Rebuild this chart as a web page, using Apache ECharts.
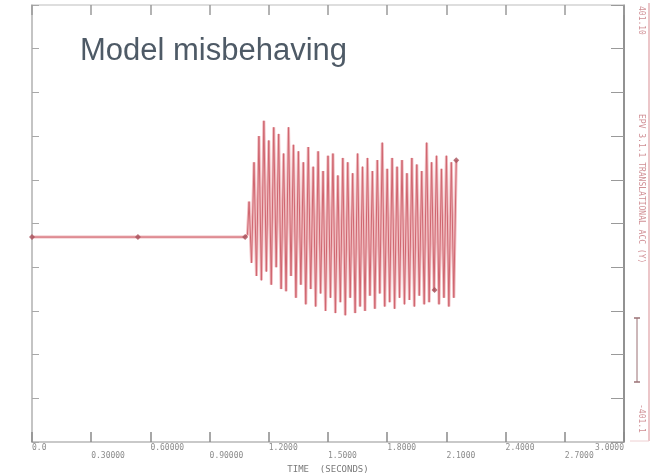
<!DOCTYPE html>
<html>
<head>
<meta charset="utf-8">
<script src="https://cdn.jsdelivr.net/npm/echarts@6/dist/echarts.min.js"></script>
<style>
html,body{margin:0;padding:0;background:#fff;}
#c{width:662px;height:473px;}
</style>
</head>
<body>
<div id="c"></div>
<script>
// Time (s) of each signal point
var timeS = [0.000, 0.537, 1.080, 1.092,
  1.1000, 1.1125, 1.1250, 1.1375, 1.1500, 1.1625, 1.1750, 1.1875, 1.2000, 1.2125,
  1.2250, 1.2375, 1.2500, 1.2625, 1.2750, 1.2875, 1.3000, 1.3125, 1.3250, 1.3375,
  1.3500, 1.3625, 1.3750, 1.3875, 1.4000, 1.4125, 1.4250, 1.4375, 1.4500, 1.4625,
  1.4750, 1.4875, 1.5000, 1.5125, 1.5250, 1.5375, 1.5500, 1.5625, 1.5750, 1.5875,
  1.6000, 1.6125, 1.6250, 1.6375, 1.6500, 1.6625, 1.6750, 1.6875, 1.7000, 1.7125,
  1.7250, 1.7375, 1.7500, 1.7625, 1.7750, 1.7875, 1.8000, 1.8125, 1.8250, 1.8375,
  1.8500, 1.8625, 1.8750, 1.8875, 1.9000, 1.9125, 1.9250, 1.9375, 1.9500, 1.9625,
  1.9750, 1.9875, 2.0000, 2.0125, 2.0250, 2.0375, 2.0500, 2.0625, 2.0750, 2.0875,
  2.1000, 2.1125, 2.1250, 2.1375, 2.1500];
// Signal value (plot units, 0..100)
var signal = [46.9, 46.9, 46.9, 47.5,
  55.0, 41.0, 64.0, 38.0, 70.0, 37.0, 73.5, 39.0, 69.0, 36.0,
  72.0, 40.0, 70.5, 35.0, 66.0, 34.5, 72.0, 38.0, 68.0, 33.0,
  66.5, 36.0, 64.0, 31.5, 67.5, 35.0, 63.0, 31.0, 66.5, 34.0,
  62.0, 30.0, 65.5, 33.0, 66.0, 29.5, 61.0, 32.0, 65.0, 29.0,
  64.0, 33.0, 61.5, 29.5, 66.0, 31.0, 63.0, 30.0, 65.0, 33.5,
  62.0, 30.5, 64.5, 34.0, 68.5, 31.0, 62.5, 32.0, 65.0, 30.5,
  63.0, 33.0, 64.5, 31.5, 61.5, 32.5, 65.0, 31.0, 63.5, 33.5,
  62.0, 31.5, 68.5, 32.0, 64.0, 34.5, 65.5, 31.5, 62.5, 33.0,
  65.5, 31.0, 64.0, 33.0, 64.5];
// Marker symbols along the trace
var markerT = [0.000, 0.537, 1.080, 2.040, 2.150];
var markerV = [46.9, 46.9, 46.9, 34.8, 64.5];
// X tick labels
var xTickLabels = ['0.0', '0.30000', '0.60000', '0.90000', '1.2000', '1.5000',
  '1.8000', '2.1000', '2.4000', '2.7000', '3.0000'];
var xTitle = 'TIME  (SECONDS)';
var chartTitle = 'Model misbehaving';
var rightTop = '401.10';
var rightMid = 'EPV 3.1.1 TRANSLATIONAL ACC (Y)';
var rightBot = '-401.1';

var lineData = timeS.map(function (t, i) { return [t, signal[i]]; });
var markData = markerT.map(function (t, i) { return [t, markerV[i]]; });

var chart = echarts.init(document.getElementById('c'));
var mono = 'DejaVu Sans Mono';
var option = {
  animation: false,
  backgroundColor: '#ffffff',
  title: {
    text: chartTitle, left: 75, top: 31,
    textStyle: { fontFamily: 'Liberation Sans, Arial', fontSize: 31, fontWeight: 'normal', color: '#4e5a66' }
  },
  grid: { left: 32, right: 38, top: 5, bottom: 31, outerBoundsMode: 'none', containLabel: false },
  xAxis: [{
    type: 'value', min: 0, max: 3, interval: 0.3, position: 'bottom',
    axisLine: { show: true, onZero: false, lineStyle: { color: '#b8b8b8', width: 1.5 } },
    axisTick: { show: true, inside: true, length: 10, lineStyle: { color: '#8a8a8a', width: 1.5 } },
    splitLine: { show: false },
    axisLabel: {
      align: 'left', alignMaxLabel: 'right', margin: 2,
      fontFamily: mono, fontSize: 8, color: '#8c8c8c', lineHeight: 8,
      formatter: function (v) {
        var i = Math.round(v / 0.3);
        return i % 2 ? '\n' + xTickLabels[i] : xTickLabels[i];
      }
    },
    name: xTitle, nameLocation: 'middle', nameGap: 19,
    nameTextStyle: { fontFamily: mono, fontSize: 9, color: '#7a7a7a' }
  }, {
    type: 'value', min: 0, max: 3, interval: 0.3, position: 'top',
    axisLine: { show: true, onZero: false, lineStyle: { color: '#d4d4d4', width: 1.5 } },
    axisTick: { show: true, inside: true, length: 10, lineStyle: { color: '#9a9a9a', width: 1.5 } },
    axisLabel: { show: false }, splitLine: { show: false }
  }],
  yAxis: [{
    type: 'value', min: 0, max: 100, interval: 10, position: 'left',
    axisLine: { show: true, onZero: false, lineStyle: { color: '#c4c4c4', width: 2 } },
    axisTick: { show: true, inside: true, length: 7, lineStyle: { color: '#a8a8a8' } },
    axisLabel: { show: false }, splitLine: { show: false }
  }, {
    type: 'value', min: 0, max: 100, interval: 10, position: 'right',
    axisLine: { show: true, onZero: false, lineStyle: { color: '#6e6e6e', width: 1.5 } },
    axisTick: { show: true, inside: true, length: 13, lineStyle: { color: '#9a9a9a' } },
    axisLabel: { show: false }, splitLine: { show: false }
  }],
  series: [{
    type: 'line', data: lineData, showSymbol: false, silent: true,
    lineStyle: { color: '#f0bcc0', width: 3 }, z: 2
  }, {
    type: 'line', data: lineData, showSymbol: false, silent: true,
    lineStyle: { color: '#d06670', width: 1 }, z: 3
  }, {
    type: 'scatter', data: markData, symbol: 'diamond', symbolSize: 6, silent: true,
    itemStyle: { color: '#a8505a' }, z: 4
  }],
  graphic: [
    { type: 'line', shape: { x1: 649, y1: 3, x2: 649, y2: 441 }, style: { stroke: '#e6b3b7', lineWidth: 1.5 } },
    { type: 'line', shape: { x1: 630, y1: 441, x2: 649, y2: 441 }, style: { stroke: '#eed0d2', lineWidth: 1 } },
    { type: 'text', x: 641, y: 6, rotation: -Math.PI / 2,
      style: { text: rightTop, fontFamily: mono, fontSize: 8, fill: '#d08f95', align: 'left', verticalAlign: 'middle' } },
    { type: 'text', x: 641, y: 114, rotation: -Math.PI / 2,
      style: { text: rightMid, fontFamily: mono, fontSize: 8, fill: '#d08f95', align: 'left', verticalAlign: 'middle' } },
    { type: 'text', x: 641, y: 404, rotation: -Math.PI / 2,
      style: { text: rightBot, fontFamily: mono, fontSize: 8, fill: '#d08f95', align: 'left', verticalAlign: 'middle' } },
    { type: 'line', shape: { x1: 637, y1: 318, x2: 637, y2: 382 }, style: { stroke: '#9a7074', lineWidth: 1 } },
    { type: 'line', shape: { x1: 634, y1: 318, x2: 640, y2: 318 }, style: { stroke: '#9a7074', lineWidth: 1.5 } },
    { type: 'line', shape: { x1: 634, y1: 382, x2: 640, y2: 382 }, style: { stroke: '#9a7074', lineWidth: 1.5 } }
  ]
};
chart.setOption(option);
</script>
</body>
</html>
